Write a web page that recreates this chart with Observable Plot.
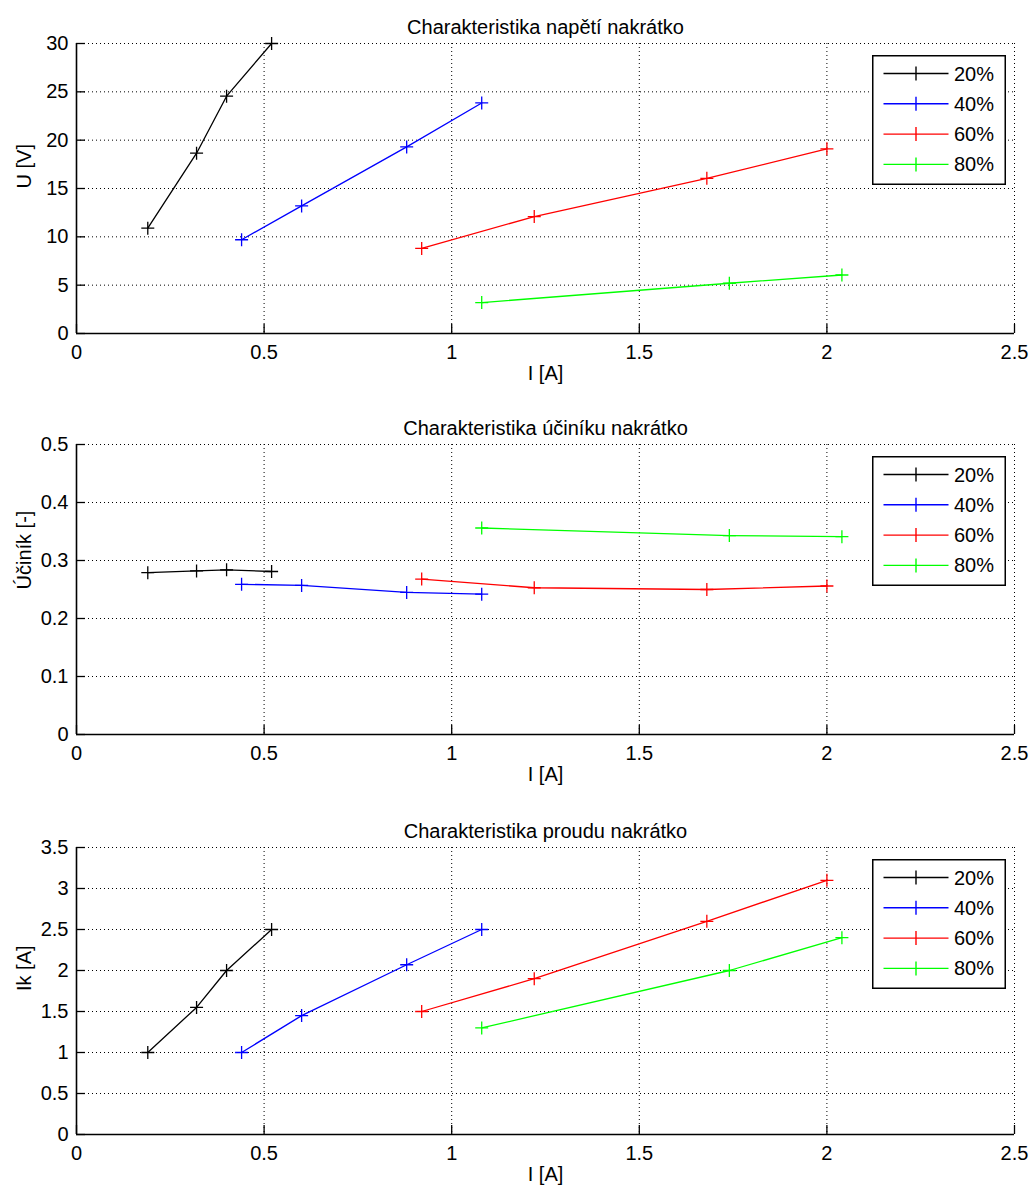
<!DOCTYPE html>
<html>
<head>
<meta charset="utf-8">
<script src="https://cdn.jsdelivr.net/npm/d3@7"></script>
<script src="https://cdn.jsdelivr.net/npm/@observablehq/plot@0.6"></script>
<style>
  body { margin: 0; background: #fff; }
  #root { width: 1035px; }
  .panel { position: relative; width: 1035px; }
  .panel svg { display: block; }
</style>
</head>
<body>
<div id="root"></div>
<script>
// ---- data ----
const series = ["20%", "40%", "60%", "80%"];
const seriesColors = ["#000000", "#0000ff", "#ff0000", "#00ff00"];
const xTicks = [0, 0.5, 1, 1.5, 2, 2.5];

const I_20 = [0.19, 0.32, 0.40, 0.52];
const I_40 = [0.44, 0.60, 0.88, 1.08];
const I_60 = [0.92, 1.22, 1.68, 2.00];
const I_80 = [1.08, 1.74, 2.04];

const U_20 = [10.9, 18.65, 24.55, 30.0];
const U_40 = [9.7, 13.2, 19.3, 23.85];
const U_60 = [8.8, 12.1, 16.05, 19.1];
const U_80 = [3.2, 5.2, 6.05];

const PF_20 = [0.279, 0.282, 0.284, 0.281];
const PF_40 = [0.259, 0.257, 0.245, 0.242];
const PF_60 = [0.268, 0.253, 0.250, 0.256];
const PF_80 = [0.356, 0.343, 0.341];

const Ik_20 = [1.0, 1.55, 2.0, 2.5];
const Ik_40 = [1.0, 1.45, 2.07, 2.5];
const Ik_60 = [1.5, 1.9, 2.6, 3.1];
const Ik_80 = [1.3, 2.0, 2.4];

const titles = ["Charakteristika napětí nakrátko", "Charakteristika účiníku nakrátko", "Charakteristika proudu nakrátko"];
const yLabels = ["U [V]", "Účiník [-]", "Ik [A]"];
const xLabel = "I [A]";
const yTicksU = [0, 5, 10, 15, 20, 25, 30];
const yTicksPF = [0, 0.1, 0.2, 0.3, 0.4, 0.5];
const yTicksIk = [0, 0.5, 1, 1.5, 2, 2.5, 3, 3.5];

// ---- rendering ----
const FONT = '"Liberation Sans", Arial, Helvetica, sans-serif';
const currents = [I_20, I_40, I_60, I_80];

const plusSymbol = {
  draw(ctx, size) {
    const r = Math.sqrt(size / Math.PI);
    ctx.moveTo(-r, 0); ctx.lineTo(r, 0);
    ctx.moveTo(0, -r); ctx.lineTo(0, r);
  }
};

function makeLegend(container, top) {
  const svg = d3.select(container).append("svg")
    .attr("width", 134).attr("height", 130)
    .style("position", "absolute").style("left", "872px").style("top", top + "px")
    .style("font-family", FONT).style("font-size", "20px");
  svg.append("rect").attr("x", 0.75).attr("y", 0.75).attr("width", 132.5).attr("height", 128.5)
    .attr("fill", "white").attr("stroke", "black").attr("stroke-width", 1.5);
  series.forEach((s, i) => {
    const y = 18.5 + 30.3 * i;
    const c = seriesColors[i];
    svg.append("line").attr("x1", 11.5).attr("x2", 76.5).attr("y1", y).attr("y2", y)
      .attr("stroke", c).attr("stroke-width", 1.4);
    svg.append("line").attr("x1", 44).attr("x2", 44).attr("y1", y - 7).attr("y2", y + 7)
      .attr("stroke", c).attr("stroke-width", 1.4);
    svg.append("text").attr("x", 82).attr("y", y).attr("dy", "0.35em").attr("fill", "black").text(s);
  });
}

function panel({title, ylabel, yDomain, yTicks, values, height, marginTop, marginBottom, legendTop}) {
  const rows = [];
  series.forEach((s, k) => currents[k].forEach((x, i) => rows.push({s, I: x, v: values[k][i]})));
  const grid = {stroke: "#000", strokeOpacity: 1, strokeDasharray: "1,3", strokeWidth: 1};
  const chart = Plot.plot({
    width: 1035,
    height,
    marginLeft: 76,
    marginRight: 21,
    marginTop,
    marginBottom,
    style: {fontFamily: FONT, fontSize: "20px", background: "white", color: "black", overflow: "visible"},
    x: {domain: [xTicks[0], xTicks[xTicks.length - 1]]},
    y: {domain: yDomain},
    color: {domain: series, range: seriesColors},
    marks: [
      Plot.gridX({ticks: xTicks, ...grid}),
      Plot.gridY({ticks: yTicks, ...grid}),
      Plot.ruleX([xTicks[0]], {stroke: "#000", strokeWidth: 1.6}),
      Plot.ruleY([yDomain[0]], {stroke: "#000", strokeWidth: 1.6}),
      Plot.axisX({ticks: xTicks, tickSize: 9, dy: -9, tickFormat: () => "", label: null, strokeWidth: 1.3}),
      Plot.axisX({ticks: xTicks, tickSize: 0, tickPadding: 11, tickFormat: d => String(d), label: null}),
      Plot.axisY({ticks: yTicks, tickSize: 9, dx: 9, tickFormat: () => "", label: null, strokeWidth: 1.3}),
      Plot.axisY({ticks: yTicks, tickSize: 0, tickPadding: 8, tickFormat: d => String(d), label: null}),
      Plot.line(rows, {x: "I", y: "v", z: "s", stroke: "s", strokeWidth: 1.3}),
      Plot.dot(rows, {x: "I", y: "v", stroke: "s", symbol: plusSymbol, r: 6.5, fill: "none", strokeWidth: 1.3}),
      Plot.text([title], {text: d => d, frameAnchor: "top", dy: -24, fill: "black"}),
      Plot.text([xLabel], {text: d => d, frameAnchor: "bottom", dy: 46, fill: "black"}),
      Plot.text([ylabel], {text: d => d, frameAnchor: "left", dx: -52, rotate: -90, fill: "black"})
    ]
  });
  const div = document.createElement("div");
  div.className = "panel";
  div.appendChild(chart);
  document.getElementById("root").appendChild(div);
  makeLegend(div, legendTop);
}

panel({title: titles[0], ylabel: yLabels[0], yDomain: [0, 30], yTicks: yTicksU,
  values: [U_20, U_40, U_60, U_80], height: 401, marginTop: 43, marginBottom: 68, legendTop: 55});
panel({title: titles[1], ylabel: yLabels[1], yDomain: [0, 0.5], yTicks: yTicksPF,
  values: [PF_20, PF_40, PF_60, PF_80], height: 401, marginTop: 43, marginBottom: 68, legendTop: 55});
panel({title: titles[2], ylabel: yLabels[2], yDomain: [0, 3.5], yTicks: yTicksIk,
  values: [Ik_20, Ik_40, Ik_60, Ik_80], height: 395, marginTop: 45, marginBottom: 63, legendTop: 57});
</script>
</body>
</html>
